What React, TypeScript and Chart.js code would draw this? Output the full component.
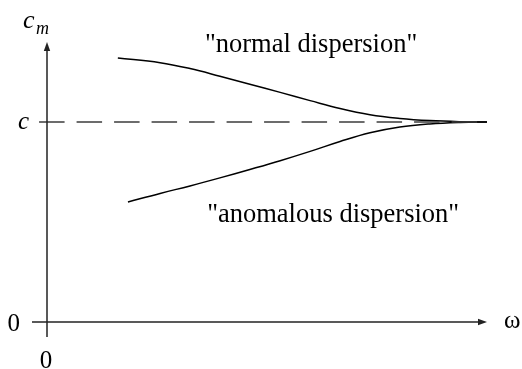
import { useEffect, useRef } from "react";
import { Chart, registerables } from "chart.js";

Chart.register(...registerables);

// Phase velocity c_m against frequency ω, approaching the constant c
const omegaNormal = [1.61, 2.57, 3.25, 3.93, 4.61, 5.3, 5.98, 6.66, 7.34, 8.02, 8.7, 9.39, 10];
const cmNormal = [1.32, 1.2965, 1.267, 1.2285, 1.1885, 1.148, 1.107, 1.0675, 1.0365, 1.018, 1.007, 1.0015, 1.0];
const omegaAnomalous = [1.84, 2.57, 3.25, 3.93, 4.61, 5.3, 5.98, 6.66, 7.34, 8.02, 8.7, 9.39, 10];
const cmAnomalous = [0.6, 0.643, 0.6805, 0.7205, 0.7625, 0.8065, 0.853, 0.9025, 0.946, 0.975, 0.9905, 0.998, 1.0];

const cLevel = 1;
const cLineSpan = [-0.18, 10];

const yTickValues = [0, 1];
const yTickLabels = ["0", "c"];
const xTickValues = [0];
const xTickLabels = ["0"];

const curveLabels = ['"normal dispersion"', '"anomalous dispersion"'];
const curveLabelOmega = [3.59, 3.64];
const curveLabelCm = [1.35, 0.5];

const SERIF = "'Liberation Serif', 'Times New Roman', serif";

const axesPlugin = {
  id: "dispersionAxes",
  afterDatasetsDraw(chart: any) {
    const { ctx } = chart;
    const xs = chart.scales.x;
    const ys = chart.scales.y;
    const x0 = xs.getPixelForValue(0);
    const y0 = ys.getPixelForValue(0);
    const xEnd = xs.getPixelForValue(xs.max);
    const yTop = ys.getPixelForValue(ys.max);

    ctx.save();
    ctx.strokeStyle = "#222";
    ctx.fillStyle = "#222";
    ctx.lineWidth = 1.5;

    // horizontal axis
    ctx.beginPath();
    ctx.moveTo(x0 - 15, y0);
    ctx.lineTo(xEnd - 6, y0);
    ctx.stroke();
    ctx.beginPath();
    ctx.moveTo(xEnd, y0);
    ctx.lineTo(xEnd - 9, y0 - 3.2);
    ctx.lineTo(xEnd - 9, y0 + 3.2);
    ctx.closePath();
    ctx.fill();

    // vertical axis
    ctx.beginPath();
    ctx.moveTo(x0, y0 + 15);
    ctx.lineTo(x0, yTop + 6);
    ctx.stroke();
    ctx.beginPath();
    ctx.moveTo(x0, yTop);
    ctx.lineTo(x0 - 3.2, yTop + 9);
    ctx.lineTo(x0 + 3.2, yTop + 9);
    ctx.closePath();
    ctx.fill();

    ctx.fillStyle = "#000";
    ctx.textBaseline = "alphabetic";

    // y tick labels
    yTickValues.forEach((v, i) => {
      const py = ys.getPixelForValue(v);
      const lbl = yTickLabels[i];
      const italic = /[a-z]/.test(lbl);
      ctx.font = (italic ? "italic " : "") + "25px " + SERIF;
      ctx.textAlign = "right";
      ctx.fillText(lbl, x0 - (italic ? 18 : 27), py + (italic ? 7 : 9));
    });

    // x tick labels
    xTickValues.forEach((v, i) => {
      const px = xs.getPixelForValue(v);
      ctx.font = "25px " + SERIF;
      ctx.textAlign = "center";
      ctx.fillText(xTickLabels[i], px - 1, y0 + 46);
    });

    // axis titles
    ctx.textAlign = "left";
    ctx.font = "25px " + SERIF;
    ctx.fillText("ω", xEnd + 17, y0 + 6);
    ctx.font = "italic 26px " + SERIF;
    ctx.fillText("c", x0 - 24, yTop - 14);
    ctx.font = "italic 18px " + SERIF;
    ctx.fillText("m", x0 - 11, yTop - 8);

    // curve labels
    ctx.font = "26.5px " + SERIF;
    curveLabels.forEach((t, i) => {
      ctx.fillText(t, xs.getPixelForValue(curveLabelOmega[i]), ys.getPixelForValue(curveLabelCm[i]));
    });
    ctx.restore();
  },
};

export default function App() {
  const ref = useRef<HTMLCanvasElement | null>(null);

  useEffect(() => {
    if (!ref.current) return;
    const chart = new Chart(ref.current, {
      type: "line",
      data: {
        datasets: [
          {
            label: "c",
            data: cLineSpan.map((x) => ({ x, y: cLevel })),
            borderColor: "#3c3c3c",
            borderWidth: 1.7,
            borderDash: [25.5, 12],
            pointRadius: 0,
            clip: false as any,
          },
          {
            label: "normal dispersion",
            data: omegaNormal.map((x, i) => ({ x, y: cmNormal[i] })),
            borderColor: "#000",
            borderWidth: 1.5,
            pointRadius: 0,
            tension: 0.4,
          },
          {
            label: "anomalous dispersion",
            data: omegaAnomalous.map((x, i) => ({ x, y: cmAnomalous[i] })),
            borderColor: "#000",
            borderWidth: 1.5,
            pointRadius: 0,
            tension: 0.4,
          },
        ],
      },
      options: {
        responsive: false,
        animation: false,
        devicePixelRatio: 1,
        layout: { padding: { left: 47, right: 35, top: 42, bottom: 47 } },
        plugins: { legend: { display: false }, tooltip: { enabled: false } },
        scales: {
          x: { type: "linear", min: 0, max: 10, display: false },
          y: { type: "linear", min: 0, max: 1.4, display: false },
        },
      },
      plugins: [axesPlugin],
    });
    return () => chart.destroy();
  }, []);

  return (
    <canvas
      ref={ref}
      width={522}
      height={369}
      style={{ position: "absolute", left: 0, top: 0, display: "block", background: "#fff" }}
    />
  );
}
